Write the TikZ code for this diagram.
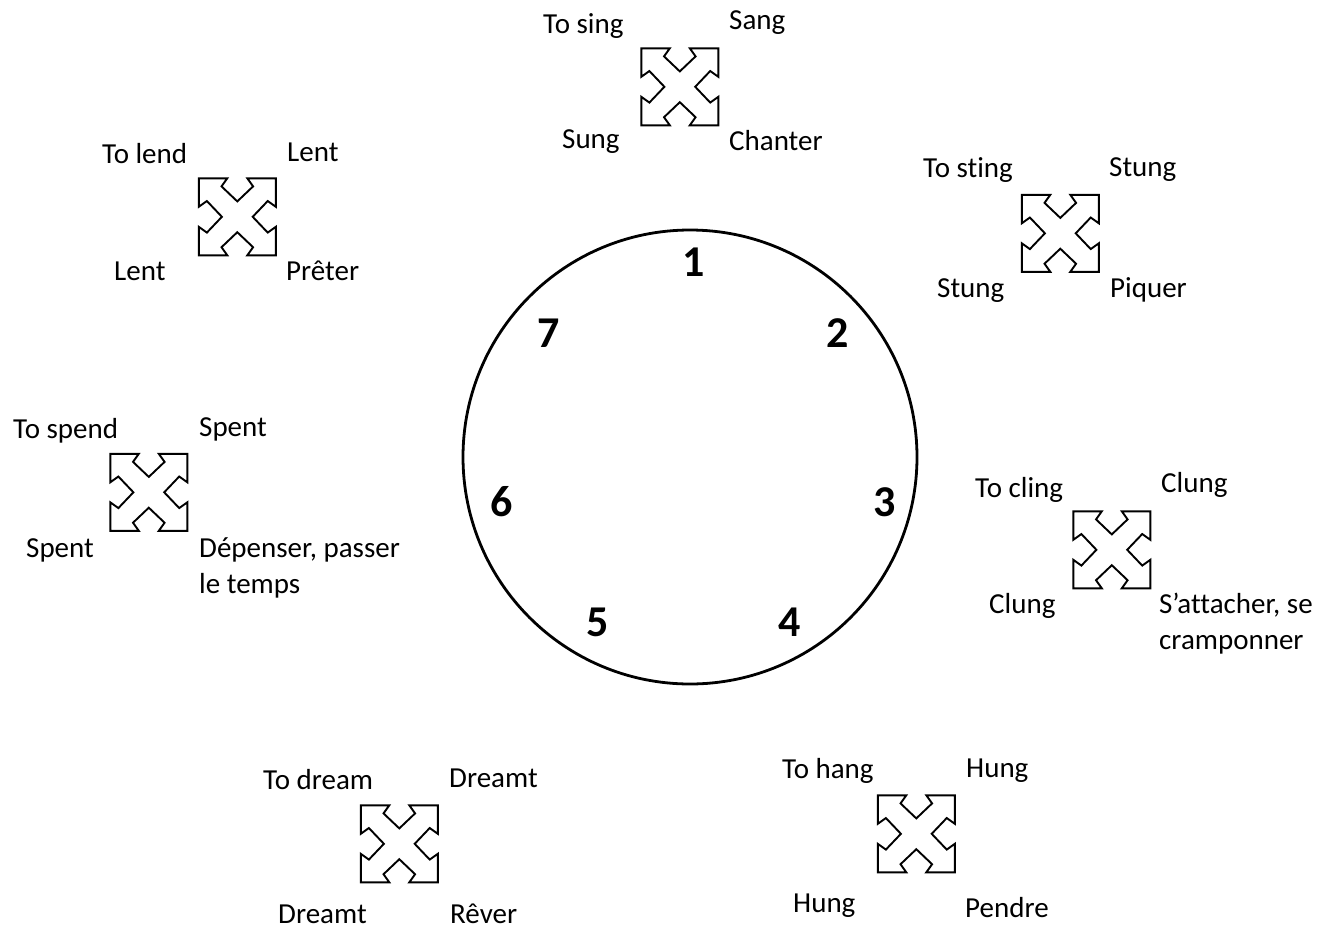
\documentclass[tikz,border=0pt]{standalone}
\usepackage{fontspec}
\setmainfont[Ligatures=NoCommon]{Carlito}
\tikzset{
  lbl/.style={anchor=base west, inner sep=0pt, font=\fontsize{29}{36}\selectfont, align=left},
  num/.style={anchor=center, inner sep=0pt, font=\fontsize{44}{50}\selectfont\bfseries},
  qbox/.style={draw=none, inner sep=0pt, minimum width=77pt, minimum height=77pt},
  qline/.style={draw=black, line width=1.9pt, line join=miter},
  ring/.style={draw=black, line width=2.8pt, circle, minimum size=454pt, inner sep=0pt}
}
\newcommand{\qarrowdraw}[1]{%
  \begin{scope}[shift={(#1.north west)}, x=77pt, y=-77pt]
    \draw[qline] (0,0) -- (0.37,0) -- (0.295,0.105) -- (0.5,0.30) -- (0.705,0.105) -- (0.63,0) -- (1,0)
      -- (1,0.37) -- (0.895,0.295) -- (0.70,0.5) -- (0.895,0.705) -- (1,0.63) -- (1,1)
      -- (0.63,1) -- (0.705,0.895) -- (0.5,0.70) -- (0.295,0.895) -- (0.37,1) -- (0,1)
      -- (0,0.63) -- (0.105,0.705) -- (0.30,0.5) -- (0.105,0.295) -- (0,0.37) -- cycle;
  \end{scope}}
\begin{document}
\begin{tikzpicture}[x=1pt, y=-1pt]
\useasboundingbox (0,0) rectangle (1332,929);

% central circle
\node[ring] (clock) at (690,457) {};
\node[num] (n1) at (694,262) {1};
\node[num] (n2) at (838,333) {2};
\node[num] (n3) at (885,502) {3};
\node[num] (n4) at (790,622) {4};
\node[num] (n5) at (598,622) {5};
\node[num] (n6) at (502,502) {6};
\node[num] (n7) at (549,333) {7};

% group 1: sing
\node[qbox] (q1) at (680,87) {};
\qarrowdraw{q1}
\node[lbl] (q1a) at (543,33) {To sing};
\node[lbl] (q1b) at (729,29) {Sang};
\node[lbl] (q1c) at (562,148) {Sung};
\node[lbl] (q1d) at (729,150) {Chanter};

% group 2: sting
\node[qbox] (q2) at (1060.5,233.5) {};
\qarrowdraw{q2}
\node[lbl] (q2a) at (923,177) {To sting};
\node[lbl] (q2b) at (1109,176) {Stung};
\node[lbl] (q2c) at (937,297) {Stung};
\node[lbl] (q2d) at (1110,297) {Piquer};

% group 3: cling
\node[qbox] (q3) at (1112,550) {};
\qarrowdraw{q3}
\node[lbl] (q3a) at (975,497) {To cling};
\node[lbl] (q3b) at (1161,492) {Clung};
\node[lbl] (q3c) at (989,613) {Clung};
\node[lbl] (q3d) at (1159,613) {S’attacher, se};
\node[lbl] (q3e) at (1159,649) {cramponner};

% group 4: hang
\node[qbox] (q4) at (916.5,834) {};
\qarrowdraw{q4}
\node[lbl] (q4a) at (782,778) {To hang};
\node[lbl] (q4b) at (966,777) {Hung};
\node[lbl] (q4c) at (793,912) {Hung};
\node[lbl] (q4d) at (965,917) {Pendre};

% group 5: dream
\node[qbox] (q5) at (399.5,844) {};
\qarrowdraw{q5}
\node[lbl] (q5a) at (263,789) {To dream};
\node[lbl] (q5b) at (449,787) {Dreamt};
\node[lbl] (q5c) at (278,923) {Dreamt};
\node[lbl] (q5d) at (450,923) {Rêver};

% group 6: spend
\node[qbox] (q6) at (149,492.5) {};
\qarrowdraw{q6}
\node[lbl] (q6a) at (13,438) {To spend};
\node[lbl] (q6b) at (199,436) {Spent};
\node[lbl] (q6c) at (26,557) {Spent};
\node[lbl] (q6d) at (199,557) {Dépenser, passer};
\node[lbl] (q6e) at (199,593) {le temps};

% group 7: lend
\node[qbox] (q7) at (237.5,217) {};
\qarrowdraw{q7}
\node[lbl] (q7a) at (102,163) {To lend};
\node[lbl] (q7b) at (287,161) {Lent};
\node[lbl] (q7c) at (114,280) {Lent};
\node[lbl] (q7d) at (286,280) {Prêter};
\end{tikzpicture}
\end{document}
